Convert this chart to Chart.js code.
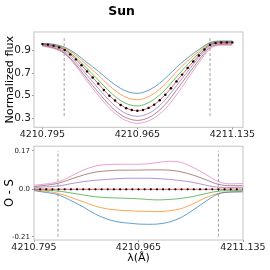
<!DOCTYPE html>
<html>
<head>
<meta charset="utf-8">
<script src="https://cdn.jsdelivr.net/npm/chart.js@4"></script>
<style>
  body { margin: 0; background: #fff; }
  #wrap { position: relative; width: 270px; height: 270px; }
  canvas { position: absolute; left: 0; }
</style>
</head>
<body>
<div id="wrap">
  <canvas id="fluxChart" width="270" height="140" style="top:0"></canvas>
  <canvas id="residChart" width="270" height="130" style="top:140px"></canvas>
</div>
<script>
// wavelength grids
const obsX = [4210.795, 4210.805, 4210.815, 4210.825, 4210.835, 4210.845, 4210.855, 4210.865, 4210.875,
  4210.885, 4210.895, 4210.905, 4210.915, 4210.925, 4210.935, 4210.945, 4210.955, 4210.965, 4210.975,
  4210.985, 4210.995, 4211.005, 4211.015, 4211.025, 4211.035, 4211.045, 4211.055, 4211.065, 4211.075,
  4211.085, 4211.095, 4211.105, 4211.115, 4211.125, 4211.135];
const modelX = [4210.795, 4210.815, 4210.835, 4210.855, 4210.875, 4210.895, 4210.915, 4210.935, 4210.950,
  4210.965, 4210.980, 4210.995, 4211.015, 4211.035, 4211.055, 4211.075, 4211.095, 4211.115, 4211.135];

// observed flux (black dots)
const obsFlux = [0.955, 0.950, 0.940, 0.926, 0.902, 0.864, 0.820, 0.768, 0.714, 0.661, 0.606, 0.550,
  0.500, 0.458, 0.418, 0.390, 0.374, 0.367, 0.374, 0.392, 0.421, 0.460, 0.508, 0.566, 0.626, 0.686,
  0.744, 0.802, 0.855, 0.907, 0.948, 0.964, 0.969, 0.970, 0.970];
const obsResid = [0, 0, 0, 0, 0, 0, 0, 0, 0, 0, 0, 0, 0, 0, 0, 0, 0, 0, 0, 0, 0, 0, 0, 0, 0, 0, 0, 0,
  0, 0, 0, 0, 0, 0, 0];

// synthetic flux, one per model
const fluxBlue   = [0.961, 0.954, 0.927, 0.870, 0.792, 0.716, 0.633, 0.564, 0.531, 0.521, 0.537, 0.575, 0.653, 0.750, 0.834, 0.907, 0.968, 0.981, 0.981];
const fluxOrange = [0.958, 0.949, 0.920, 0.856, 0.769, 0.681, 0.587, 0.511, 0.476, 0.464, 0.480, 0.520, 0.603, 0.711, 0.807, 0.891, 0.966, 0.981, 0.981];
const fluxGreen  = [0.955, 0.944, 0.910, 0.836, 0.739, 0.639, 0.537, 0.457, 0.421, 0.409, 0.427, 0.468, 0.553, 0.666, 0.775, 0.874, 0.956, 0.975, 0.976];
const fluxRed    = [0.955, 0.940, 0.902, 0.820, 0.714, 0.606, 0.500, 0.418, 0.381, 0.367, 0.382, 0.421, 0.508, 0.626, 0.744, 0.855, 0.948, 0.969, 0.970];
const fluxPurple = [0.947, 0.929, 0.887, 0.795, 0.680, 0.566, 0.456, 0.370, 0.332, 0.318, 0.333, 0.373, 0.464, 0.588, 0.714, 0.837, 0.939, 0.961, 0.961];
const fluxBrown  = [0.943, 0.922, 0.875, 0.775, 0.651, 0.530, 0.418, 0.333, 0.296, 0.282, 0.296, 0.335, 0.423, 0.549, 0.682, 0.813, 0.926, 0.953, 0.954];
const fluxPink   = [0.937, 0.916, 0.868, 0.762, 0.629, 0.503, 0.390, 0.307, 0.270, 0.256, 0.269, 0.303, 0.384, 0.507, 0.649, 0.790, 0.914, 0.945, 0.944];

// O - S residuals
const resBlue   = [-0.006, -0.014, -0.025, -0.050, -0.078, -0.110, -0.133, -0.146, -0.150, -0.154, -0.155, -0.154, -0.145, -0.124, -0.090, -0.052, -0.020, -0.012, -0.011];
const resOrange = [-0.003, -0.009, -0.018, -0.036, -0.055, -0.075, -0.087, -0.093, -0.095, -0.097, -0.098, -0.099, -0.095, -0.085, -0.063, -0.036, -0.018, -0.012, -0.011];
const resGreen  = [0.000, -0.004, -0.008, -0.016, -0.025, -0.033, -0.037, -0.039, -0.040, -0.042, -0.045, -0.047, -0.045, -0.040, -0.031, -0.019, -0.008, -0.006, -0.006];
const resRed    = [0.001, 0.001, 0.000, 0.000, 0.000, 0.000, 0.000, 0.000, 0.000, 0.000, 0.000, 0.000, 0.000, 0.000, 0.000, 0.000, 0.000, 0.001, 0.001];
const resPurple = [0.008, 0.011, 0.015, 0.025, 0.034, 0.040, 0.044, 0.048, 0.049, 0.049, 0.049, 0.048, 0.044, 0.038, 0.030, 0.018, 0.009, 0.008, 0.009];
const resBrown  = [0.012, 0.018, 0.027, 0.045, 0.063, 0.076, 0.082, 0.085, 0.085, 0.085, 0.086, 0.086, 0.085, 0.077, 0.062, 0.042, 0.022, 0.016, 0.016];
const resPink   = [0.018, 0.024, 0.034, 0.058, 0.085, 0.103, 0.110, 0.111, 0.111, 0.111, 0.113, 0.118, 0.124, 0.119, 0.095, 0.065, 0.034, 0.024, 0.026];

// line-window markers (dashed)
const markX = [4210.834, 4211.095];
const markFluxY = [0.32, 1.026];
const markResY = [-0.21, 0.17];

// ticks
const xTicks = [4210.795, 4210.965, 4211.135];
const fluxTicks = [0.3, 0.4, 0.5, 0.6, 0.7, 0.8, 0.9, 1.0];
const resTicks = [-0.21, 0.0, 0.17];
const resTickLabels = ["-0.21", "0.0", "0.17"];

const colors = ["rgba(31,119,180,0.7)", "rgba(255,127,14,0.7)", "rgba(44,160,44,0.7)", "rgba(214,39,40,0.75)",
  "rgba(148,103,189,0.7)", "rgba(140,86,75,0.7)", "rgba(227,119,194,0.7)"];
const FONT = "'DejaVu Sans', sans-serif";

function curve(xs, ys, color) {
  return {
    data: xs.map((x, i) => ({ x: x, y: ys[i] })),
    borderColor: color,
    borderWidth: 1,
    pointRadius: 0,
    fill: false,
    cubicInterpolationMode: "monotone",
  };
}

function dots(xs, ys, r) {
  return {
    data: xs.map((x, i) => ({ x: x, y: ys[i] })),
    showLine: false,
    pointRadius: r,
    pointBorderWidth: 0,
    pointBackgroundColor: "#000",
  };
}

function marks(ys) {
  return markX.map(x => ({
    data: [{ x: x, y: ys[0] }, { x: x, y: ys[1] }],
    borderColor: "#8a8a8a",
    borderWidth: 0.8,
    borderDash: [3, 2],
    pointRadius: 0,
  }));
}

// light grey box round the plot area
const framePlugin = {
  id: "frame",
  afterDatasetsDraw(chart) {
    const { ctx, chartArea: a } = chart;
    ctx.save();
    ctx.strokeStyle = "#c4c4c4";
    ctx.lineWidth = 1;
    ctx.strokeRect(a.left, a.top, a.right - a.left, a.bottom - a.top);
    ctx.restore();
  },
};

function xScale(min, max, height, title) {
  return {
    type: "linear",
    min: min,
    max: max,
    afterBuildTicks: s => { s.ticks = xTicks.map(v => ({ value: v })); },
    afterFit: s => { s.height = height; },
    ticks: { callback: v => v.toFixed(3), font: { family: FONT, size: 9.5 }, color: "#222", padding: 0, maxRotation: 0, autoSkip: false },
    grid: { drawOnChartArea: false, tickLength: 2, color: "#999" },
    border: { display: false },
    title: title,
  };
}

const fluxSets = [dots(obsX, obsFlux, 1.2)]
  .concat([fluxRed, fluxBlue, fluxOrange, fluxGreen, fluxPurple, fluxBrown, fluxPink]
    .map((ys, i) => curve(modelX, ys, colors[[3, 0, 1, 2, 4, 5, 6][i]])))
  .concat(marks(markFluxY));

new Chart(document.getElementById("fluxChart"), {
  type: "line",
  data: { datasets: fluxSets },
  plugins: [framePlugin],
  options: {
    responsive: false,
    animation: false,
    layout: { padding: { left: 0, right: 27, top: 0, bottom: 0 } },
    plugins: {
      legend: { display: false },
      tooltip: { enabled: false },
      title: {
        display: true,
        text: "Sun",
        color: "#000",
        font: { family: FONT, size: 12.4, weight: "bold" },
        padding: { top: 4, bottom: 13.1 },
      },
    },
    scales: {
      x: xScale(4210.780, 4211.154, 12.7, { display: false }),
      y: {
        min: 0.221,
        max: 1.062,
        afterBuildTicks: s => { s.ticks = fluxTicks.map(v => ({ value: v })); },
        afterFit: s => { s.width = 34; },
        ticks: { callback: v => v.toFixed(1), font: { family: FONT, size: 10.5 }, color: "#222", padding: 1 },
        grid: { drawOnChartArea: false, tickLength: 2, color: "#999" },
        border: { display: false },
        title: { display: true, text: "Normalized flux", color: "#000", font: { family: FONT, size: 11.2 }, padding: { top: 3, bottom: 0 } },
      },
    },
  },
});

const resSets = [dots(obsX, obsResid, 1.1)]
  .concat([resRed, resBlue, resOrange, resGreen, resPurple, resBrown, resPink]
    .map((ys, i) => curve(modelX, ys, colors[[3, 0, 1, 2, 4, 5, 6][i]])))
  .concat(marks(markResY));

new Chart(document.getElementById("residChart"), {
  type: "line",
  data: { datasets: resSets },
  plugins: [framePlugin],
  options: {
    responsive: false,
    animation: false,
    layout: { padding: { left: 0, right: 27, top: 6, bottom: 0 } },
    plugins: { legend: { display: false }, tooltip: { enabled: false } },
    scales: {
      x: xScale(4210.795, 4211.135, 30, {
        display: true, text: "λ(Å)", color: "#000", font: { family: FONT, size: 11 }, padding: { top: 0, bottom: 5.4 },
      }),
      y: {
        min: -0.2246,
        max: 0.191,
        afterBuildTicks: s => { s.ticks = resTicks.map(v => ({ value: v })); },
        afterFit: s => { s.width = 34; },
        ticks: { callback: (v, i) => resTickLabels[i], font: { family: FONT, size: 7 }, color: "#222", padding: 2 },
        grid: { drawOnChartArea: false, tickLength: 2, color: "#999" },
        border: { display: false },
        title: { display: true, text: "O - S", color: "#000", font: { family: FONT, size: 11.5 }, padding: { top: 3, bottom: 0 } },
      },
    },
  },
});
</script>
</body>
</html>
